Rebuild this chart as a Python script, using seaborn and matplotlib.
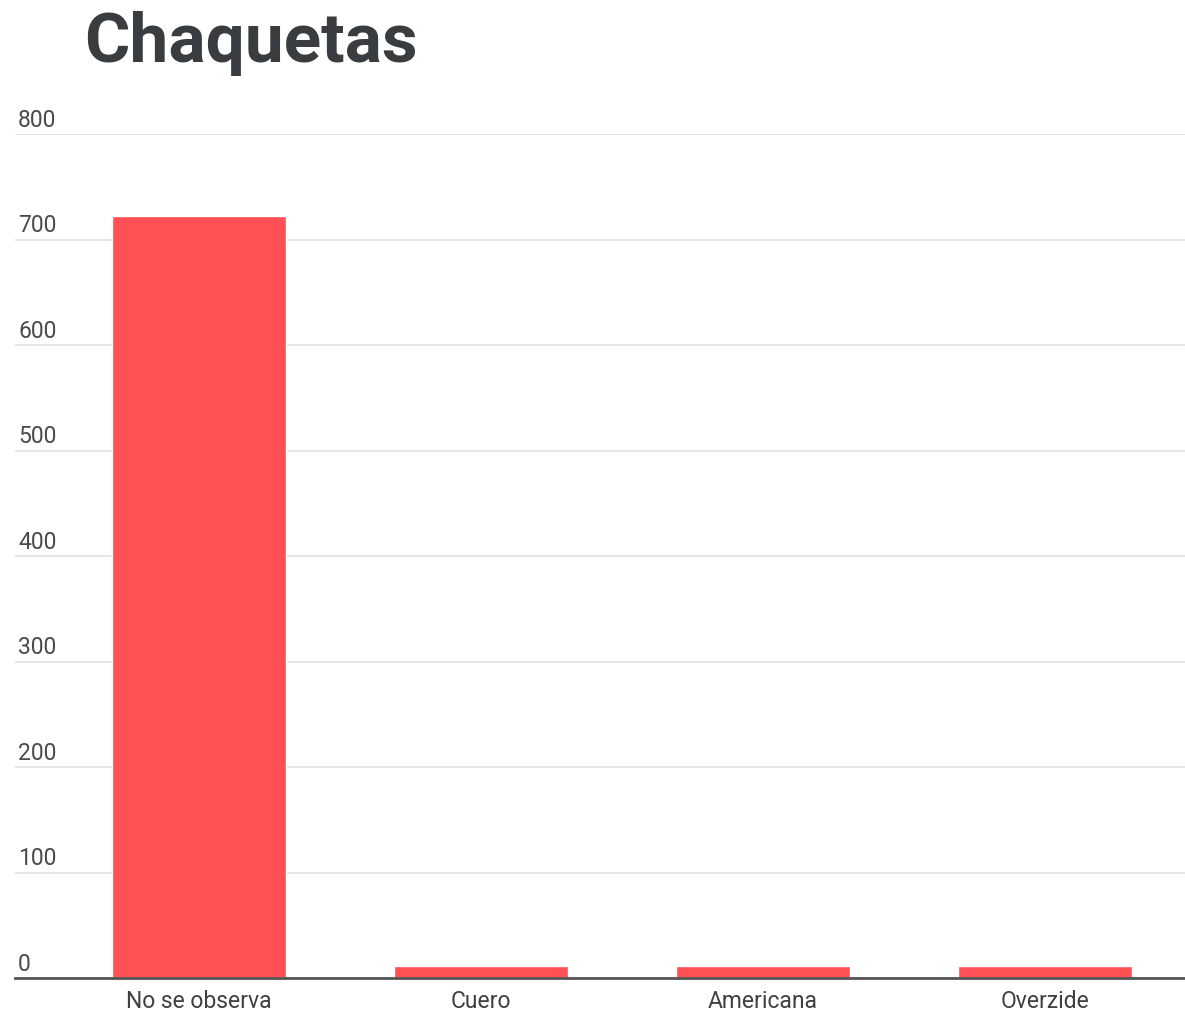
import matplotlib
matplotlib.use("Agg")
import matplotlib.pyplot as plt
import matplotlib.transforms as mtransforms
import seaborn as sns
import pandas as pd

# Chart data
categories = ["No se observa", "Cuero", "Americana", "Overzide"]
counts = [722, 11, 11, 11]
y_ticks = [0, 100, 200, 300, 400, 500, 600, 700, 800]

df = pd.DataFrame({"tipo": categories, "cantidad": counts})

sns.set_theme(style="white")
plt.rcParams["font.family"] = ["Roboto", "DejaVu Sans"]

fig = plt.figure(figsize=(11.85, 10.12), dpi=100)
ax = fig.add_axes([15 / 1185, 1 - 979 / 1012, 1 - 15 / 1185, (979 - 135) / 1012])

sns.barplot(data=df, x="tipo", y="cantidad", color="#fe5055", saturation=1,
            width=0.617, ax=ax)

ax.set_xlim(-0.652, 3.496)
ax.set_ylim(0, 800)
ax.set_yticks(y_ticks)
ax.set_yticklabels([])
ax.tick_params(axis="y", length=0)
ax.tick_params(axis="x", length=0, pad=8, labelsize=16.5, labelcolor="#3f3f3f")
ax.yaxis.grid(True, color="#e2e2e2", linewidth=1.2)
ax.set_axisbelow(True)
ax.set_xlabel("")
ax.set_ylabel("")

for s in ["top", "right", "left"]:
    ax.spines[s].set_visible(False)
ax.spines["bottom"].set_color("#555555")
ax.spines["bottom"].set_linewidth(2)

# tick labels sit above their gridlines, left aligned
trans = mtransforms.blended_transform_factory(fig.transFigure, ax.transData)
offset = mtransforms.ScaledTranslation(0, 3 / 100, fig.dpi_scale_trans)
for t in y_ticks:
    ax.text(18 / 1185, t, str(t), transform=trans + offset, ha="left", va="bottom",
            fontsize=16.5, color="#4a4a4a")

fig.text(84 / 1185, 1 - 62 / 1012, "Chaquetas", fontsize=50, fontweight="bold",
         color="#3a3d40", ha="left", va="baseline")

plt.savefig("out.png", dpi=100)
